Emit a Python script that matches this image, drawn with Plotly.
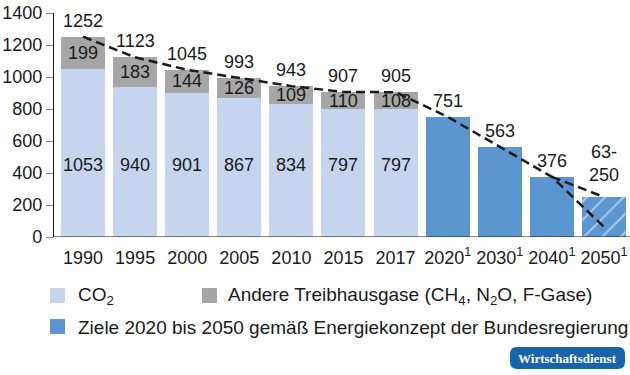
import plotly.graph_objects as go

years = ["1990", "1995", "2000", "2005", "2010", "2015", "2017",
         "2020<sup>1</sup>", "2030<sup>1</sup>", "2040<sup>1</sup>", "2050<sup>1</sup>"]
co2 = [1053, 940, 901, 867, 834, 797, 797]
other = [199, 183, 144, 126, 109, 110, 108]
totals = [1252, 1123, 1045, 993, 943, 907, 905]
targets = [751, 563, 376, 250]
target_labels = ["751", "563", "376", "63-<br>250"]
target_low_2050 = 63
y_ticks = [0, 200, 400, 600, 800, 1000, 1200, 1400]

C_CO2 = "#c6d4ee"
C_OTHER = "#a6a6a6"
C_TARGET = "#5b96d1"
TXT = "#1a1a1a"
FONT = "Liberation Sans, Arial, sans-serif"
FS = 18
FS_LEG = 19

hist_x = list(range(len(co2)))
targ_x = list(range(len(co2), len(years)))

fig = go.Figure()
fig.add_trace(go.Bar(x=hist_x, y=co2, marker=dict(color=C_CO2, line=dict(width=0)),
                     width=0.845, showlegend=False))
fig.add_trace(go.Bar(x=hist_x, y=other, marker=dict(color=C_OTHER, line=dict(width=0)),
                     width=0.845, showlegend=False))
fig.add_trace(go.Bar(x=targ_x[:-1], y=targets[:-1],
                     marker=dict(color=C_TARGET, line=dict(width=0)),
                     width=0.845, showlegend=False))
fig.add_trace(go.Bar(x=targ_x[-1:], y=targets[-1:],
                     marker=dict(color=C_TARGET, line=dict(width=0),
                                 pattern=dict(shape="/", fgcolor="white", bgcolor=C_TARGET,
                                              size=13, solidity=0.15)),
                     width=0.845, showlegend=False))

# dashed trend lines
main_y = totals + targets[:-1] + [target_low_2050]
fig.add_trace(go.Scatter(x=list(range(len(years))), y=main_y, mode="lines",
                         line=dict(color=TXT, width=2.5, dash="9px,5px"),
                         showlegend=False, hoverinfo="skip"))
fig.add_trace(go.Scatter(x=targ_x[-2:], y=targets[-2:], mode="lines",
                         line=dict(color=TXT, width=2.5, dash="9px,5px"),
                         showlegend=False, hoverinfo="skip"))

ann = []
for i, v in enumerate(co2):
    ann.append(dict(x=i, y=450, text=str(v), showarrow=False, xref="x", yref="y",
                    font=dict(size=FS, color=TXT, family=FONT)))
for i, v in enumerate(other):
    ann.append(dict(x=i, y=co2[i] + v / 2, text=str(v), showarrow=False, xref="x", yref="y",
                    font=dict(size=FS, color=TXT, family=FONT)))
for i, v in enumerate(totals):
    ann.append(dict(x=i, y=v, text=str(v), showarrow=False, xref="x", yref="y",
                    yanchor="bottom", yshift=4,
                    font=dict(size=FS, color=TXT, family=FONT)))
for j, v in enumerate(targets):
    multi = "<br>" in target_labels[j]
    ann.append(dict(x=targ_x[j], y=v, text=target_labels[j], showarrow=False, xref="x", yref="y",
                    yanchor="bottom", yshift=10 if multi else 4,
                    font=dict(size=FS, color=TXT, family=FONT)))

# convert pixels to paper coords
L, R, T, B = 54, 0, 13, 138
W, H = 630, 375
PW, PH = W - L - R, H - T - B
def px(x):
    return (x - L) / PW
def py(y):
    return (H - B - y) / PH

shapes = []
for (x, y, c) in [(50, 288, C_CO2), (202, 288, C_OTHER), (50, 319, C_TARGET)]:
    shapes.append(dict(type="rect", xref="paper", yref="paper",
                       x0=px(x), x1=px(x + 15), y0=py(y + 15), y1=py(y),
                       fillcolor=c, line=dict(width=0)))
legend_items = [(76, 296, "CO<sub>2</sub>"),
                (226, 296, "Andere Treibhausgase (CH<sub>4</sub>, N<sub>2</sub>O, F-Gase)"),
                (76, 327, "Ziele 2020 bis 2050 gemäß Energiekonzept der Bundesregierung")]
for (x, y, t) in legend_items:
    ann.append(dict(x=px(x), y=py(y), xref="paper", yref="paper", text=t, showarrow=False,
                    xanchor="left", yanchor="middle",
                    font=dict(size=FS_LEG, color=TXT, family=FONT)))

# logo
x0, x1, y0, y1, r = 510, 625, 347, 369, 7
path = (f"M {px(x0 + r)} {py(y0)} L {px(x1 - r)} {py(y0)} "
        f"Q {px(x1)} {py(y0)} {px(x1)} {py(y0 + r)} L {px(x1)} {py(y1 - r)} "
        f"Q {px(x1)} {py(y1)} {px(x1 - r)} {py(y1)} L {px(x0 + r)} {py(y1)} "
        f"Q {px(x0)} {py(y1)} {px(x0)} {py(y1 - r)} L {px(x0)} {py(y0 + r)} "
        f"Q {px(x0)} {py(y0)} {px(x0 + r)} {py(y0)} Z")
shapes.append(dict(type="path", xref="paper", yref="paper", path=path,
                   fillcolor="#1763ad", line=dict(width=0)))
ann.append(dict(x=px((x0 + x1) / 2), y=py((y0 + y1) / 2), xref="paper", yref="paper",
                text="<b>Wirtschaftsdienst</b>", showarrow=False, xanchor="center", yanchor="middle",
                font=dict(size=13, color="white", family="Liberation Serif, DejaVu Serif, serif")))

# x axis baseline
shapes.append(dict(type="line", xref="paper", yref="y", x0=0, x1=1, y0=0, y1=0,
                   line=dict(color=TXT, width=1.2)))

fig.update_layout(
    width=W, height=H, margin=dict(l=L, r=R, t=T, b=B, pad=0),
    barmode="stack",
    plot_bgcolor="white", paper_bgcolor="white",
    font=dict(family=FONT, size=FS, color=TXT),
    xaxis=dict(range=[-0.557, 10.5], tickmode="array", tickvals=list(range(len(years))),
               ticktext=years, showgrid=False, zeroline=False, showline=False,
               ticks="", ticklabelstandoff=8, tickfont=dict(size=FS, color=TXT, family=FONT)),
    yaxis=dict(range=[0, 1400], tickvals=y_ticks, showgrid=False, zeroline=False,
               showline=True, linecolor=TXT, linewidth=1.2, ticks="outside", ticklen=7,
               tickcolor="#888888", tickwidth=1.2,
               tickfont=dict(size=FS, color=TXT, family=FONT)),
    annotations=ann, shapes=shapes,
)

fig.write_html("out.html", config={"displayModeBar": False},
               post_script="document.body.style.margin='0';")
